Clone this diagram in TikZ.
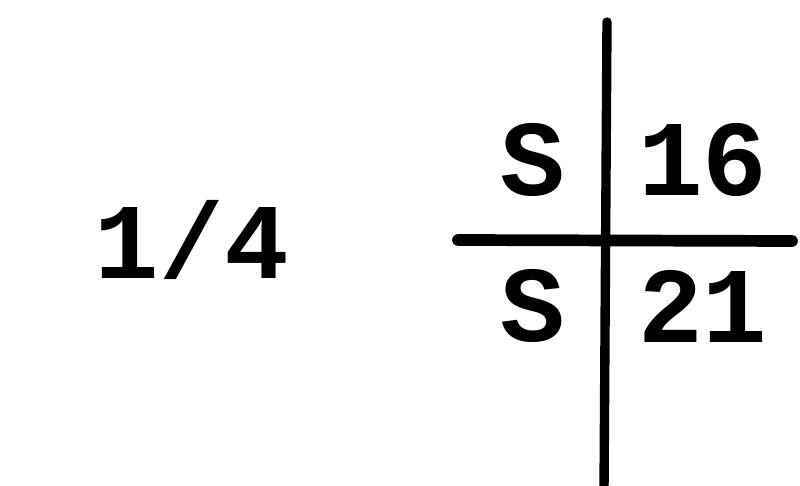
\documentclass[tikz,border=0pt]{standalone}
\usepackage{fontspec}
\setmonofont{Liberation Mono}
\begin{document}
\begin{tikzpicture}[x=0.03cm,y=-0.03cm,
  lbl/.style={font=\ttfamily\bfseries\fontsize{92}{96}\selectfont, inner sep=0pt, anchor=center},
  bar/.style={line width=8pt, line cap=round}]
\useasboundingbox (0,0) rectangle (800,486);
\node[lbl] (frac) at (192,240) {1/4};
\node[lbl] (s1) at (533,160) {S};
\node[lbl] (n16) at (703,160) {16};
\node[lbl] (s2) at (533,306) {S};
\node[lbl] (n21) at (703,306) {21};
\coordinate (vt) at (607,22);
\coordinate (vb) at (604,492);
\coordinate (hl) at (458,240);
\coordinate (hr) at (792,241);
\draw[bar] (vt) -- (vb);
\draw[bar, line width=10pt] (hl) -- (hr);
\end{tikzpicture}
\end{document}
